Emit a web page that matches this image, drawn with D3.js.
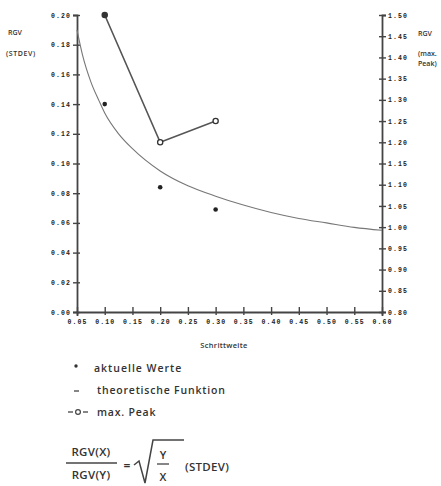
<!DOCTYPE html>
<html><head><meta charset="utf-8">
<script src="https://cdn.jsdelivr.net/npm/d3@7"></script>
<style>
html,body{margin:0;padding:0;background:#fff;}
svg{display:block;}
.tk text{font-family:"Liberation Mono",monospace;font-size:6.5px;font-weight:bold;fill:#222;letter-spacing:1.1px;}
.lbl{font-family:"Open Sans","Liberation Sans",Arial,sans-serif;fill:#333;font-weight:600;}
</style></head><body>
<script>
// ---- data ----
const xTicks = [0.05,0.10,0.15,0.20,0.25,0.30,0.35,0.40,0.45,0.50,0.55,0.60];
const leftTicks = [0,0.02,0.04,0.06,0.08,0.10,0.12,0.14,0.16,0.18,0.20];
const rightTicks = [0.80,0.85,0.90,0.95,1.00,1.05,1.10,1.15,1.20,1.25,1.30,1.35,1.40,1.45,1.50];
const stepSizes = [0.10,0.20,0.30];
const actualValues = [0.140,0.084,0.069];       // aktuelle Werte (left axis, STDEV)
const maxPeak = [1.50,1.20,1.25];               // max. Peak (right axis)
const theoX = [0.05,0.06,0.075,0.09,0.10,0.125,0.15,0.20,0.25,0.30,0.35,0.40,0.45,0.50,0.55,0.60];
const theoY = [0.190,0.173,0.155,0.142,0.134,0.120,0.110,0.095,0.085,0.078,0.072,0.067,0.063,0.060,0.057,0.055];

const W=441,H=486;
const svg=d3.select("body").append("svg").attr("width",W).attr("height",H);
const x=d3.scaleLinear().domain([0.05,0.60]).range([77,382]);
const yL=d3.scaleLinear().domain([0,0.20]).range([312,15]);
const yR=d3.scaleLinear().domain([0.80,1.50]).range([312,15]);
const axisColor="#444";

// left axis
const gL=svg.append("g").attr("class","tk").attr("transform","translate(77,0)")
  .call(d3.axisLeft(yL).tickValues(leftTicks).tickFormat(d3.format(".2f")).tickSize(4).tickPadding(2));
gL.selectAll(".tick line").attr("x1",3).attr("x2",-4);
// right axis
const gR=svg.append("g").attr("class","tk").attr("transform","translate(382,0)")
  .call(d3.axisRight(yR).tickValues(rightTicks).tickFormat(d3.format(".2f")).tickSize(4).tickPadding(2));
gR.selectAll(".tick line").attr("x1",-3).attr("x2",4);
// x axis
const gX=svg.append("g").attr("class","tk").attr("transform","translate(0,312)")
  .call(d3.axisBottom(x).tickValues(xTicks).tickFormat(d3.format(".2f")).tickSize(4).tickPadding(3));
gX.selectAll(".tick line").attr("y1",-5).attr("y2",3);
[gL,gR,gX].forEach(g=>{
  g.select(".domain").attr("stroke",axisColor).attr("stroke-width",1.8);
  g.selectAll(".tick line").attr("stroke",axisColor).attr("stroke-width",1.4);
});

// theoretical curve
svg.append("path").datum(theoX.map((d,i)=>[d,theoY[i]]))
  .attr("fill","none").attr("stroke","#777").attr("stroke-width",1.1)
  .attr("d",d3.line().x(d=>x(d[0])).y(d=>yL(d[1])).curve(d3.curveMonotoneX));

// max peak line + circles
svg.append("path").datum(stepSizes.map((d,i)=>[d,maxPeak[i]]))
  .attr("fill","none").attr("stroke","#555").attr("stroke-width",1.6)
  .attr("d",d3.line().x(d=>x(d[0])).y(d=>yR(d[1])));
svg.selectAll("circle.pk").data(stepSizes).enter().append("circle")
  .attr("cx",d=>x(d)).attr("cy",(d,i)=>yR(maxPeak[i])).attr("r",2.6)
  .attr("fill",(d,i)=>i===0?"#333":"#fff").attr("stroke","#333").attr("stroke-width",1.3);

// actual values
svg.selectAll("circle.av").data(stepSizes).enter().append("circle")
  .attr("cx",d=>x(d)).attr("cy",(d,i)=>yL(actualValues[i])).attr("r",2.3).attr("fill","#222");

// axis titles
const t=(s,xx,yy,fs,anchor,ls)=>svg.append("text").attr("class","lbl").attr("x",xx).attr("y",yy)
  .attr("font-size",fs).attr("text-anchor",anchor||"start").attr("letter-spacing",ls||0).text(s);
t("RGV",8,35,7); t("(STDEV)",6,56,7,"start",0.6);
t("RGV",418,36,7); t("(max.",418,56,7); t("Peak)",418,66,7);
t("Schrittweite",224,348,7.5,"middle",0.3);

// legend
svg.append("circle").attr("cx",76).attr("cy",366).attr("r",1.7).attr("fill","#333");
t("aktuelle Werte",94,372,10.5,"start",1.0);
svg.append("line").attr("x1",74).attr("x2",79).attr("y1",391).attr("y2",391).attr("stroke","#444").attr("stroke-width",1.3);
t("theoretische Funktion",97,394,10.5,"start",0.8);
svg.append("line").attr("x1",68).attr("x2",73).attr("y1",412).attr("y2",412).attr("stroke","#444").attr("stroke-width",1.3);
svg.append("circle").attr("cx",78).attr("cy",412).attr("r",2.4).attr("fill","none").attr("stroke","#444").attr("stroke-width",1.2);
svg.append("line").attr("x1",83).attr("x2",88).attr("y1",412).attr("y2",412).attr("stroke","#444").attr("stroke-width",1.3);
t("max. Peak",97,416,10.5,"start",0.8);

// formula
t("RGV(X)",91,456,11.5,"middle",0.3);
svg.append("line").attr("x1",66).attr("x2",117).attr("y1",463).attr("y2",463).attr("stroke","#444").attr("stroke-width",1.3);
t("RGV(Y)",91,479,11.5,"middle",0.3);
t("=",127,470,12,"middle");
svg.append("path").attr("d","M134,465 L139,461 L145,483 L153,440 L184,440")
  .attr("fill","none").attr("stroke","#444").attr("stroke-width",1.5);
t("Y",163,459,11,"middle");
svg.append("line").attr("x1",157).attr("x2",169).attr("y1",464).attr("y2",464).attr("stroke","#444").attr("stroke-width",1.3);
t("X",163,481,11,"middle");
t("(STDEV)",185,471,11.5,"start",0.3);
</script>
</body></html>
